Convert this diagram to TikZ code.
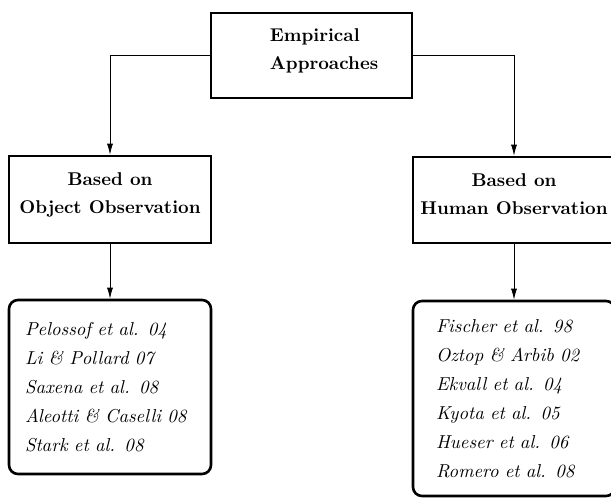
\documentclass[tikz,border=0pt]{standalone}
\usepackage{fontspec}
\setmainfont{lmroman10-regular.otf}[BoldFont=lmroman10-bold.otf,ItalicFont=lmroman10-italic.otf]
\usetikzlibrary{arrows.meta}
\begin{document}
\begin{tikzpicture}[x=1pt,y=-1pt,
  hbox/.style={draw,line width=2.6pt,minimum width=201pt,inner sep=0pt,text depth=12pt,
    font=\fontsize{18.5}{28}\selectfont\bfseries,align=center},
  lbox/.style={draw,line width=2.6pt,rounded corners=9pt,minimum width=202pt,inner ysep=0pt,
    font=\fontsize{18.7}{29}\selectfont\itshape,align=left},
  arr/.style={line width=0.8pt,-{Latex[length=11pt,width=6pt]}}]
\useasboundingbox (0,0) rectangle (611,500);
\node[hbox,minimum height=85pt,align=left] (top) at (311.5,55.5) {\hspace*{25pt}Empirical\\\hspace*{25pt}Approaches};
\node[hbox,minimum height=87pt,minimum width=202pt] (ml) at (110,199.5) {Based on\\Object Observation};
\node[hbox,minimum height=86pt,minimum width=202pt] (mr) at (514,200) {Based on\\Human Observation};
\node[lbox,minimum height=174pt,inner xsep=16pt,text width=170pt] (bl) at (110,387) {Pelossof et al. 04\\Li \& Pollard 07\\Saxena et al. 08\\Aleotti \& Caselli 08\\Stark et al. 08};
\node[lbox,minimum height=195pt,inner xsep=23pt,text width=156pt] (br) at (514,398.5) {Fischer et al. 98\\Oztop \& Arbib 02\\Ekvall et al. 04\\Kyota et al. 05\\Hueser et al. 06\\Romero et al. 08};
\draw[arr] (top.west) -| (ml.north);
\draw[arr] (top.east) -| (mr.north);
\draw[arr] (ml.south) -- (bl.north);
\draw[arr] (mr.south) -- (br.north);
\end{tikzpicture}
\end{document}
